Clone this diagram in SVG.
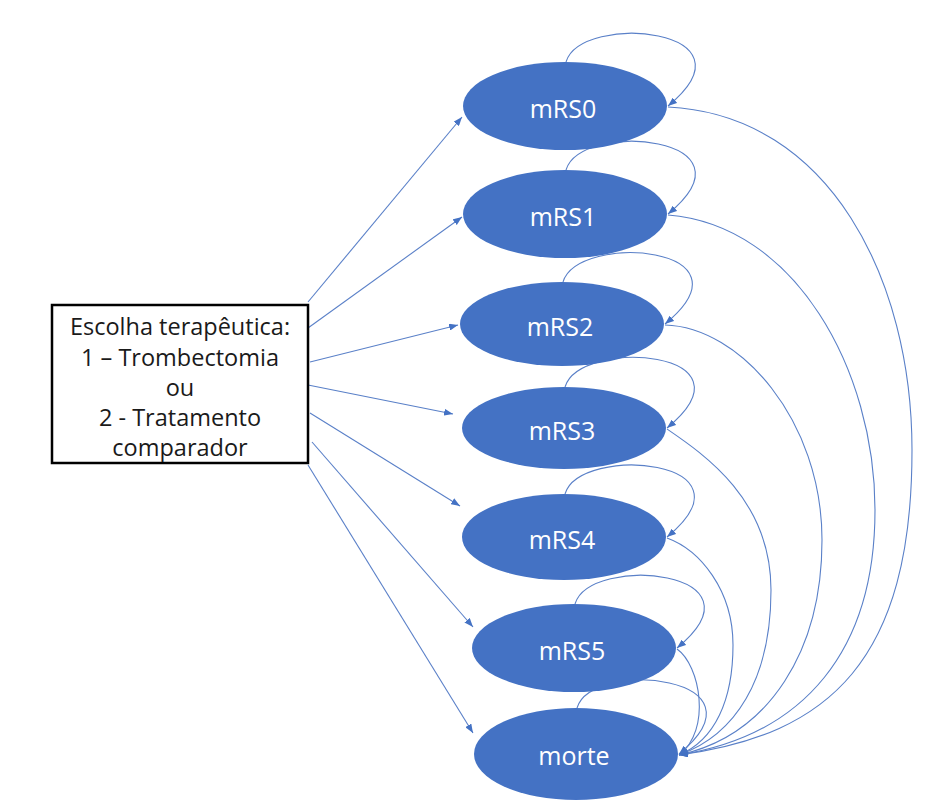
<svg xmlns="http://www.w3.org/2000/svg" width="952" height="807" viewBox="0 0 952 807">
<style>
.node{fill:#4472C4;}
.lbl{font-family:"Open Sans","Noto Sans",sans-serif;font-size:25px;fill:#ffffff;text-anchor:middle;}
.box{fill:#ffffff;stroke:#000000;stroke-width:2.5;}
.btxt{font-family:"Open Sans","Noto Sans",sans-serif;font-size:23.5px;fill:#1a1a1a;text-anchor:middle;}
.con{fill:none;stroke:#5a80c8;stroke-width:1.1;marker-end:url(#ah);}
</style>
<defs>
<marker id="ah" viewBox="0 0 9 7" refX="9" refY="3.5" markerWidth="9" markerHeight="7" markerUnits="userSpaceOnUse" orient="auto">
<path d="M0,0 L9,3.5 L0,7 z" fill="#4472C4"/>
</marker>
</defs>
<rect width="952" height="807" fill="#ffffff"/>
<g id="connectors">
<line class="con" x1="308" y1="302" x2="462" y2="117"/>
<line class="con" x1="308" y1="328" x2="462" y2="217"/>
<line class="con" x1="310" y1="362" x2="458" y2="325"/>
<line class="con" x1="308" y1="385" x2="453" y2="414"/>
<line class="con" x1="310" y1="413" x2="460" y2="506"/>
<line class="con" x1="312" y1="442" x2="473" y2="627"/>
<line class="con" x1="308" y1="465" x2="473" y2="733"/>
<path class="con" d="M566,62 C581,12 763,28 668,106"/>
<path class="con" d="M566,170 C581,120 763,136 668,214"/>
<path class="con" d="M563,282 C578,232 760,246 665,324"/>
<path class="con" d="M565,387 C580,337 762,350 667,428"/>
<path class="con" d="M565,494 C580,444 762,459 667,537"/>
<path class="con" d="M575,604 C590,554 772,570 677,648"/>
<path class="con" d="M577,708 C592,658 774,676 679,754"/>
<path class="con" d="M668,107 C830,115 912,280 912,450 C912,660 830,735 679,755"/>
<path class="con" d="M668,215 C795,225 875,370 875,510 C875,650 805,735 679,755"/>
<path class="con" d="M665,325 C740,327 822,420 822,540 C822,650 770,735 679,755"/>
<path class="con" d="M667,429 C705,455 771,500 771,590 C771,680 735,735 679,755"/>
<path class="con" d="M667,538 C700,550 733,590 733,645 C733,700 715,740 679,755"/>
<path class="con" d="M677,649 C700,665 712,730 679,755"/>
</g>
<g id="box">
<rect class="box" x="52" y="305" width="256" height="158"/>
<text class="btxt" x="180" y="335">Escolha terapêutica:</text>
<text class="btxt" x="180" y="366">1 – Trombectomia</text>
<text class="btxt" x="180" y="396">ou</text>
<text class="btxt" x="180" y="426">2 - Tratamento</text>
<text class="btxt" x="180" y="456">comparador</text>
</g>
<g id="mRS0"><ellipse class="node" cx="565" cy="106" rx="102" ry="44"/><text class="lbl" x="563" y="118">mRS0</text></g>
<g id="mRS1"><ellipse class="node" cx="565" cy="214" rx="102" ry="44"/><text class="lbl" x="563" y="226">mRS1</text></g>
<g id="mRS2"><ellipse class="node" cx="562" cy="324" rx="102" ry="42"/><text class="lbl" x="560" y="336">mRS2</text></g>
<g id="mRS3"><ellipse class="node" cx="564" cy="428" rx="102" ry="41"/><text class="lbl" x="562" y="440">mRS3</text></g>
<g id="mRS4"><ellipse class="node" cx="564" cy="537" rx="102" ry="43"/><text class="lbl" x="562" y="549">mRS4</text></g>
<g id="mRS5"><ellipse class="node" cx="574" cy="648" rx="102" ry="44"/><text class="lbl" x="572" y="660">mRS5</text></g>
<g id="morte"><ellipse class="node" cx="576" cy="754" rx="102" ry="46"/><text class="lbl" x="574" y="765">morte</text></g>
</svg>
